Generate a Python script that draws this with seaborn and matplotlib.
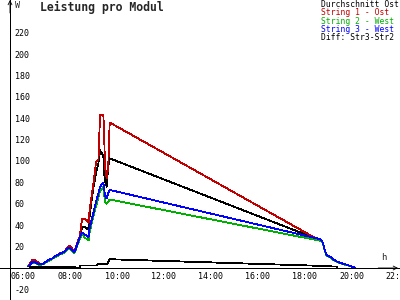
import matplotlib
matplotlib.use("Agg")
import matplotlib.pyplot as plt
import matplotlib.transforms as mtransforms
import numpy as np
import pandas as pd
import seaborn as sns

# ---- data (hours, W) ----
t_main = [6.58, 6.65, 6.75, 6.85, 6.95, 7.05, 7.2, 7.4, 7.6, 7.8, 7.95, 8.1, 8.25, 8.33,
          8.45, 8.55, 8.65, 8.78, 8.87, 9.0, 9.1, 9.15, 9.2, 9.34, 9.47, 9.57, 9.64, 9.78,
          9.81, 9.85, 9.92, 9.99, 10.05, 19.02, 19.1, 19.15, 19.22, 19.3, 19.45, 19.6,
          19.75, 19.95, 20.2, 20.4, 20.5]
avg_ost = [1.5, 3.5, 6.5, 6.5, 5, 3.5, 4, 7, 9, 12, 13.5, 15, 18, 20,
           17, 15, 21, 29, 38, 38, 36, 38, 50, 73, 89, 98, 110, 105,
           90, 82, 76, 95, 102.5, 26, 25, 23, 17, 12, 10.5, 8,
           6, 4.4, 2.8, 1.2, 0.3]
string1 = [1.5, 4, 7.5, 7.5, 6, 4, 4, 7, 9, 12, 14, 15, 19, 21,
           18, 15.5, 22, 30, 46, 46, 44, 42, 55, 76, 99, 101, 143, 143,
           129, 95, 84, 95, 136, 25.5, 25, 23, 17, 12, 10.5, 8,
           6, 4.4, 2.8, 1.2, 0.3]
string2 = [2, 2.5, 5, 5, 4, 2.5, 3.5, 6, 8.5, 11, 13, 14, 17, 18,
           16, 14, 20, 27, 32, 28, 27, 26, 34, 47, 58, 66, 72, 75.5,
           70, 62, 60, 62, 64, 25.5, 24.5, 22.5, 16.5, 11.5, 10, 7.5,
           5.5, 4, 2.5, 1, 0.3]
string3 = [1.5, 3, 5.5, 6, 4.5, 3.5, 4, 7, 9, 12, 13.5, 15, 18, 19,
           17, 15, 21, 29, 33, 31, 30, 29, 38, 50, 62, 70, 76, 79.7,
           75, 68, 65, 70, 73, 27, 25.5, 23, 17, 12, 10.5, 8,
           6, 4.4, 2.8, 1.2, 0.3]
t_diff = [6.65, 7.0, 7.5, 8.0, 8.55, 8.62, 8.75, 8.8, 9.5, 9.55, 9.95, 10.05, 19.05, 19.5, 19.75]
diff = [1.0, 1.2, 1.2, 1.2, 1.2, 0.0, 0.0, 2.4, 2.4, 3.4, 3.6, 8.2, 2.0, 1.5, 1.3]

series_names = ["Durchschnitt Ost", "String 1 - Ost", "String 2 - West",
                "String 3 - West", "Diff: Str3-Str2"]
series_colors = ["#000000", "#c00000", "#00b000", "#0000ff", "#000000"]
x_ticks = [6, 8, 10, 12, 14, 16, 18, 20, 22]
x_labels = ["06:00", "08:00", "10:00", "12:00", "14:00", "16:00", "18:00", "20:00", "22:"]
y_ticks = [-20, 20, 40, 60, 80, 100, 120, 140, 160, 180, 200, 220]

frames = []
for name, vals in zip(series_names[:4], [avg_ost, string1, string2, string3]):
    frames.append(pd.DataFrame({"t": t_main, "v": vals, "series": name}))
frames.append(pd.DataFrame({"t": t_diff, "v": diff, "series": series_names[4]}))
df = pd.concat(frames, ignore_index=True)

sns.set_style("white")
plt.rcParams["font.family"] = ["DejaVu Sans Mono", "DejaVu Sans"]

fig = plt.figure(figsize=(4, 3), dpi=100)
ax = fig.add_axes([0, 0, 1, 1])
ax.set_facecolor("white")

LW = 0.6
sns.lineplot(data=df, x="t", y="v", hue="series", hue_order=series_names,
             palette=dict(zip(series_names, series_colors)), estimator=None,
             sort=False, linewidth=LW, ax=ax, legend=True)
for ln in ax.lines:
    ln.set_antialiased(False)

# pixel mapping: px = 14.7 + (h-6)*23.45 ; py = 268 - 1.07 v
ax.set_xlim(6 - 14.7 / 23.45, 6 + 385.3 / 23.45)
ax.set_ylim(-32 / 1.07, 268 / 1.07)
yaxis_x = 6 - 4.7 / 23.45

for s in ["top", "right"]:
    ax.spines[s].set_visible(False)
ax.spines["left"].set_position(("data", yaxis_x))
ax.spines["bottom"].set_position(("data", 0))
for s in ["left", "bottom"]:
    ax.spines[s].set_color("black")
    ax.spines[s].set_linewidth(LW)
    ax.spines[s].set_antialiased(False)

ax.set_xticks(x_ticks)
ax.set_xticklabels(x_labels)
ax.set_yticks(y_ticks)
ax.set_yticklabels([str(v) for v in y_ticks])
ax.tick_params(axis="both", direction="inout", length=4.5, width=LW,
               colors="black", labelsize=6)
ax.tick_params(axis="y", pad=-5.6)
ax.tick_params(axis="x", pad=0.8)
for lab in ax.get_yticklabels():
    lab.set_horizontalalignment("left")
off = mtransforms.ScaledTranslation(-4 / 100, 0, fig.dpi_scale_trans)
for lab in ax.get_xticklabels():
    lab.set_horizontalalignment("left")
    lab.set_transform(lab.get_transform() + off)
ax.set_xlabel("")
ax.set_ylabel("")
ax.grid(False)

# axis arrows
ax.annotate("", xy=(yaxis_x, 268 / 1.07), xytext=(yaxis_x, 255 / 1.07),
            arrowprops=dict(arrowstyle="->", lw=LW, color="black",
                            shrinkA=0, shrinkB=0, mutation_scale=7))
ax.annotate("", xy=(6 + (398 - 14.7) / 23.45, 0), xytext=(21.5, 0),
            arrowprops=dict(arrowstyle="->", lw=LW, color="black",
                            shrinkA=0, shrinkB=0, mutation_scale=7))

fig.text(15 / 400, 1 - 5 / 300, "W", fontsize=6, ha="left", va="center")
fig.text(384 / 400, 1 - 258 / 300, "h", fontsize=6.5, ha="center", va="center")
fig.text(40 / 400, 1 - 7.5 / 300, "Leistung pro Modul", fontsize=8.3,
         fontweight="bold", ha="left", va="center")

leg = ax.legend(loc="upper right", bbox_to_anchor=(399 / 400, 1.0),
                bbox_transform=fig.transFigure, frameon=False, handlelength=0,
                handletextpad=0, borderpad=0, borderaxespad=0,
                labelspacing=-0.08, fontsize=5.8, labelcolor="linecolor",
                alignment="left")
for h in leg.legend_handles:
    h.set_visible(False)

fig.savefig("out.png", dpi=100, facecolor="white")
